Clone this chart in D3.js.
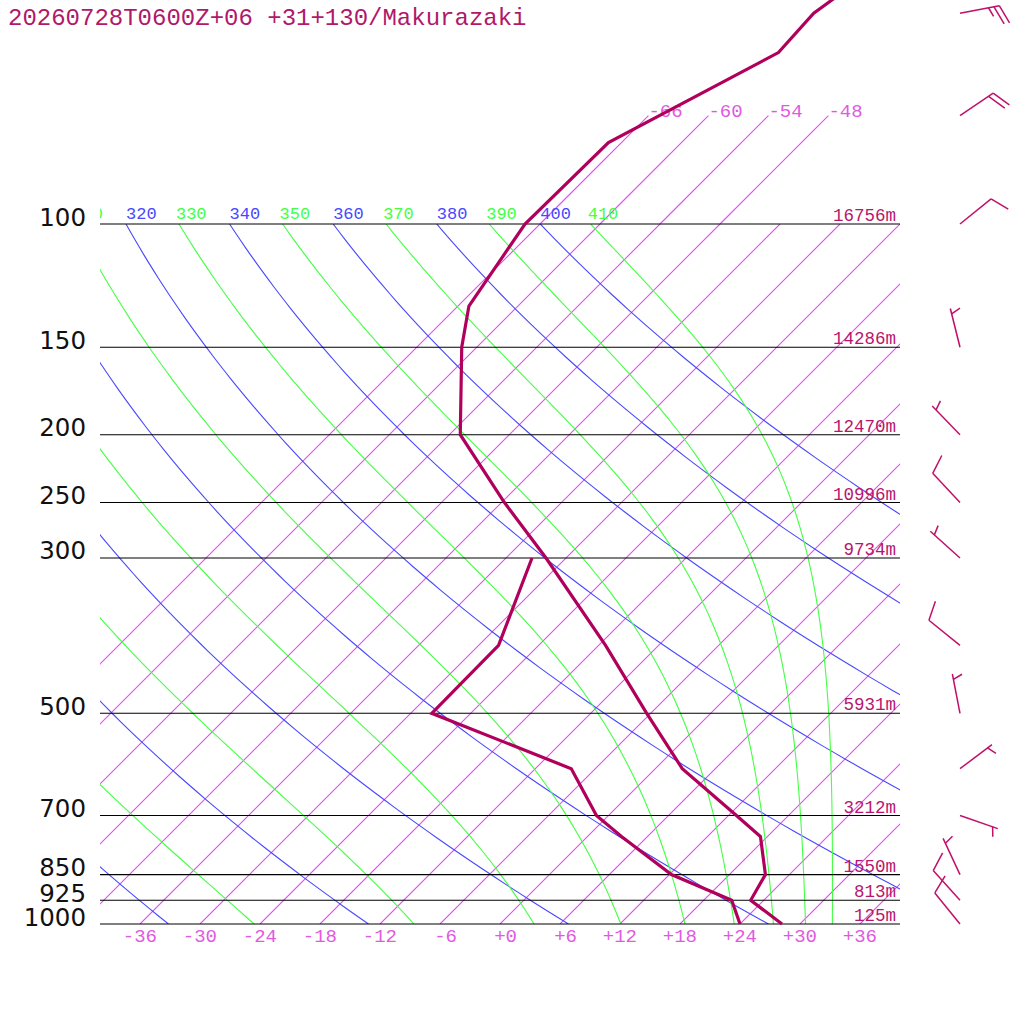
<!DOCTYPE html>
<html><head><meta charset="utf-8">
<script src="https://cdn.jsdelivr.net/npm/d3@7"></script>
<style>html,body{margin:0;padding:0;background:#fff;} svg{display:block}</style>
</head><body>
<svg id="c" width="1024" height="1024"></svg>
<script>
// ---------------- data ----------------
const title = "20260728T0600Z+06 +31+130/Makurazaki";
const levels = [1000, 925, 850, 700, 500, 300, 250, 200, 150, 100];
const levelLabels = ["1000", "925", "850", "700", "500", "300", "250", "200", "150", "100"];
const heights = ["125m", "813m", "1550m", "3212m", "5931m", "9734m", "10996m", "12470m", "14286m", "16756m"];
const tempP = [1000, 925, 850, 750, 700, 600, 500, 400, 300, 250, 200, 150, 131, 100, 76.5, 56.9, 50, 40];
const tempT = [28.2, 22.7, 21.6, 17.3, 12.8, 2.7, -6.4, -17.3, -32.0, -41.7, -52.9, -61.5, -64.9, -67.5, -67.3, -59.3, -59.7, -57.2];
const dewP = [1000, 925, 850, 750, 700, 600, 500, 400, 300];
const dewT = [24.0, 20.8, 12.2, 3.4, -1.2, -8.4, -27.9, -28.0, -33.4];
const windP = [1000, 925, 850, 700, 600, 500, 400, 300, 250, 200, 150, 100, 70, 50];
const windDir = [321, 318, 335, 109, 53, 349, 309, 312, 317, 316, 346, 51, 56, 79];
const windKt = [10, 10, 5, 5, 5, 5, 10, 5, 10, 5, 5, 10, 20, 25];
const isotherms = [-66, -60, -54, -48, -42, -36, -30, -24, -18, -12, -6, 0, 6, 12, 18, 24, 30, 36];
const upperIsotherms = [-66, -60, -54, -48];
const upperIsoLabels = ["-66", "-60", "-54", "-48"];
const tempTicks = [-36, -30, -24, -18, -12, -6, 0, 6, 12, 18, 24, 30, 36];
const tempTickLabels = ["-36", "-30", "-24", "-18", "-12", "-6", "+0", "+6", "+12", "+18", "+24", "+30", "+36"];
const thetaLines = [200, 220, 240, 260, 280, 300, 320, 340, 360, 380, 400];
const thetaELines = [250, 270, 290, 310, 330, 350, 370, 390, 410];

// ---------------- scales ----------------
const svg = d3.select("#c");
const X0 = 100, X1 = 900;
const y = d3.scaleLog().domain([1000, 100]).range([924, 224]);
const xT = d3.scaleLinear().domain([-40, 40]).range([X0, X1]);
const Y0 = y(1000);
const sx = (T, p) => xT(T) + (Y0 - y(p));

const COL_PROF = "rgb(176,0,92)", COL_ISO = "rgb(222,80,238)", COL_ISOL = "rgb(224,90,224)";
const COL_BLUE = "rgb(72,72,255)", COL_GREEN = "rgb(68,255,68)";
const MONO = "'Liberation Mono', monospace";

const defs = svg.append("defs");
defs.append("clipPath").attr("id", "box").append("rect")
  .attr("x", X0).attr("y", y(100)).attr("width", X1 - X0).attr("height", Y0 - y(100));
defs.append("clipPath").attr("id", "lbl").append("rect")
  .attr("x", X0).attr("y", 0).attr("width", X1 - X0).attr("height", Y0);

const gen = d3.line().x(d => d[0]).y(d => d[1]);

// isotherms (clipped to the plot box)
const isoG = svg.append("g").attr("clip-path", "url(#box)");
isotherms.forEach(T => {
  isoG.append("line")
    .attr("x1", sx(T, 1000)).attr("y1", y(1000))
    .attr("x2", sx(T, 100)).attr("y2", y(100))
    .attr("stroke", COL_ISO).attr("stroke-width", 1.1);
});
upperIsotherms.forEach((T, i) => {
  svg.append("line")
    .attr("x1", sx(T, 100)).attr("y1", y(100))
    .attr("x2", sx(T, 70)).attr("y2", y(70))
    .attr("stroke", COL_ISO).attr("stroke-width", 1.1);
  svg.append("text").attr("x", sx(T, 70)).attr("y", y(70) + 1)
    .attr("font-family", MONO).attr("font-size", 19)
    .attr("fill", COL_ISOL).text(upperIsoLabels[i]);
});

const bg = svg.append("g").attr("clip-path", "url(#box)");

// pressure sampling
const pSamples = d3.range(0, 91).map(i => 1000 * Math.pow(0.1, i / 90));

// dry adiabats
thetaLines.forEach(th => {
  const pts = pSamples.map(p => [sx(th * Math.pow(p / 1000, 0.2857) - 273.15, p), y(p)]);
  bg.append("path").attr("d", gen(pts)).attr("stroke", COL_BLUE).attr("stroke-width", 1.1).attr("fill", "none");
});

// moist adiabats (theta-e isopleths, Bolton 1980)
function thetaE(Tc, p) {
  const es = 6.112 * Math.exp(17.67 * Tc / (Tc + 243.5));
  if (es > 0.8 * p) return 1e9;
  const r = 622 * es / (p - es);
  const TK = Tc + 273.15;
  return TK * Math.pow(1000 / p, 0.2854 * (1 - 0.28e-3 * r)) *
    Math.exp((3.376 / TK - 0.00254) * r * (1 + 0.81e-3 * r));
}
function solveT(te, p) {
  let lo = -160, hi = 60;
  for (let k = 0; k < 60; k++) {
    const mid = (lo + hi) / 2;
    if (thetaE(mid, p) > te) hi = mid; else lo = mid;
  }
  return (lo + hi) / 2;
}
thetaELines.forEach(te => {
  const pts = pSamples.map(p => [sx(solveT(te, p), p), y(p)]);
  bg.append("path").attr("d", gen(pts)).attr("stroke", COL_GREEN).attr("stroke-width", 1.1).attr("fill", "none");
});

// theta labels on 100 hPa (only those reaching into the plot)
const lg = svg.append("g").attr("clip-path", "url(#lbl)");
thetaLines.forEach(th => {
  const lx = sx(th * Math.pow(0.1, 0.2857) - 273.15, 100);
  if (lx < 60) return;
  lg.append("text").attr("x", lx).attr("y", y(100) - 5)
    .attr("font-family", MONO).attr("font-size", 17)
    .attr("fill", COL_BLUE).text(th);
});
thetaELines.forEach(te => {
  const lx = sx(solveT(te, 100), 100) - 3;
  if (lx < 60) return;
  lg.append("text").attr("x", lx).attr("y", y(100) - 5)
    .attr("font-family", MONO).attr("font-size", 17)
    .attr("fill", COL_GREEN).text(te);
});

// pressure lines
levels.forEach((p, i) => {
  svg.append("line").attr("x1", X0).attr("x2", X1).attr("y1", y(p)).attr("y2", y(p))
    .attr("stroke", "#000").attr("stroke-width", 1.1);
  svg.append("text").attr("x", 86).attr("y", y(p) + 1.5).attr("text-anchor", "end")
    .attr("font-family", "'DejaVu Sans', sans-serif").attr("font-size", 24.5).attr("fill", "#111")
    .text(levelLabels[i]);
  svg.append("text").attr("x", 896).attr("y", y(p) - 3).attr("text-anchor", "end")
    .attr("font-family", MONO).attr("font-size", 17.5)
    .attr("fill", "#b8156e").text(heights[i]);
});

// temperature tick labels
tempTicks.forEach((T, i) => {
  svg.append("text").attr("x", xT(T) + 17).attr("y", 942).attr("text-anchor", "end")
    .attr("font-family", MONO).attr("font-size", 19)
    .attr("fill", COL_ISOL).text(tempTickLabels[i]);
});

// profiles
const tPts = tempP.map((p, i) => [sx(tempT[i], p), y(p)]);
const dPts = dewP.map((p, i) => [sx(dewT[i], p), y(p)]);
[tPts, dPts].forEach(pts => {
  svg.append("path").attr("d", gen(pts)).attr("stroke", COL_PROF).attr("stroke-width", 3.2)
    .attr("fill", "none").attr("stroke-linejoin", "miter").attr("stroke-linecap", "butt");
});

// wind barbs
const BX = 960, STAFF = 40, FULL = 20, HALF = 10, GAP = 5.5, ANG = 70 * Math.PI / 180;
const bgp = svg.append("g").attr("stroke", "#c0106a").attr("stroke-width", 1.5).attr("fill", "none");
windP.forEach((p, i) => {
  const d = windDir[i] * Math.PI / 180;
  const ux = Math.sin(d), uy = -Math.cos(d);
  const by = y(p);
  const tx = BX + STAFF * ux, ty = by + STAFF * uy;
  bgp.append("path").attr("d", gen([[BX, by], [tx, ty]]));
  const fx = ux * Math.cos(ANG) - uy * Math.sin(ANG);
  const fy = ux * Math.sin(ANG) + uy * Math.cos(ANG);
  const s = Math.round(windKt[i] / 5) * 5;
  const nFull = Math.floor(s / 10), nHalf = (s % 10) >= 5 ? 1 : 0;
  let pos = 0;
  for (let k = 0; k < nFull; k++) {
    const px = tx - pos * GAP * ux, py = ty - pos * GAP * uy;
    bgp.append("path").attr("d", gen([[px, py], [px + FULL * fx, py + FULL * fy]]));
    pos++;
  }
  if (nHalf) {
    if (nFull === 0) pos = 1;
    const px = tx - pos * GAP * ux, py = ty - pos * GAP * uy;
    bgp.append("path").attr("d", gen([[px, py], [px + HALF * fx, py + HALF * fy]]));
  }
});

// title
svg.append("text").attr("x", 8).attr("y", 25)
  .attr("font-family", MONO).attr("font-size", 24)
  .attr("fill", "#b0186a").text(title);
</script>
</body></html>
